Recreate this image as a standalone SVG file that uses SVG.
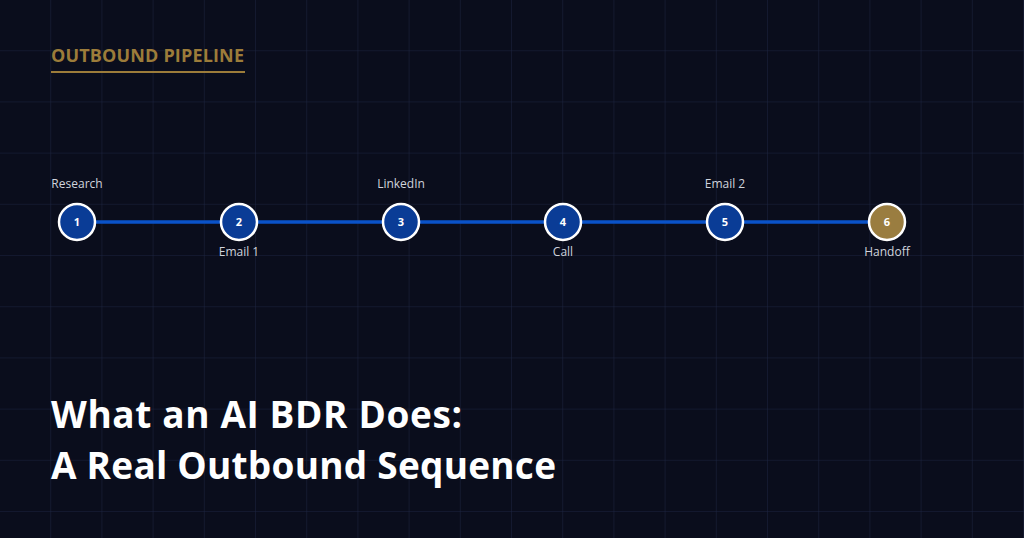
<svg xmlns="http://www.w3.org/2000/svg" width="1024" height="538" viewBox="0 0 1024 538">
<defs>
<pattern id="grid" width="51.2" height="51.2" patternUnits="userSpaceOnUse">
<path d="M51.2 0V51.2M0 51.2H51.2" fill="none" stroke="#1c2440" stroke-width="1"/>
</pattern>
</defs>
<style>
.n circle{fill:#0a3c96;stroke:#fff;stroke-width:2.5}
.n.gold circle{fill:#9a7d40}
.num{font-family:"Open Sans",sans-serif;font-weight:700;font-size:11px;fill:#fff;text-anchor:middle}
.lbl{font-family:"Open Sans",sans-serif;font-size:12px;fill:#d0d4dc;text-anchor:middle}
.title{font-family:"Open Sans",sans-serif;font-weight:700;font-size:37px;fill:#fff}
</style>
<rect width="1024" height="538" fill="#0a0d1c"/>
<rect width="1024" height="538" fill="url(#grid)"/>
<text x="51" y="62" font-family="Open Sans, sans-serif" font-weight="700" font-size="18" fill="#9c7c3a" textLength="193">OUTBOUND PIPELINE</text>
<rect x="51" y="71" width="194" height="2" fill="#9c7c3a"/>
<g id="connectors"><line x1="77" y1="222" x2="887" y2="222" stroke="#0a52c8" stroke-width="3.5"/></g>
<g id="n1" class="n"><circle cx="77" cy="222" r="18"/><text class="num" x="77" y="226">1</text><text class="lbl" x="77" y="188">Research</text></g>
<g id="n2" class="n"><circle cx="239" cy="222" r="18"/><text class="num" x="239" y="226">2</text><text class="lbl" x="239" y="256">Email 1</text></g>
<g id="n3" class="n"><circle cx="401" cy="222" r="18"/><text class="num" x="401" y="226">3</text><text class="lbl" x="401" y="188">LinkedIn</text></g>
<g id="n4" class="n"><circle cx="563" cy="222" r="18"/><text class="num" x="563" y="226">4</text><text class="lbl" x="563" y="256">Call</text></g>
<g id="n5" class="n"><circle cx="725" cy="222" r="18"/><text class="num" x="725" y="226">5</text><text class="lbl" x="725" y="188">Email 2</text></g>
<g id="n6" class="n gold"><circle cx="887" cy="222" r="18"/><text class="num" x="887" y="226">6</text><text class="lbl" x="887" y="256">Handoff</text></g>
<text class="title" x="51" y="428" textLength="411">What an AI BDR Does:</text>
<text class="title" x="51" y="479" textLength="505">A Real Outbound Sequence</text>
</svg>
